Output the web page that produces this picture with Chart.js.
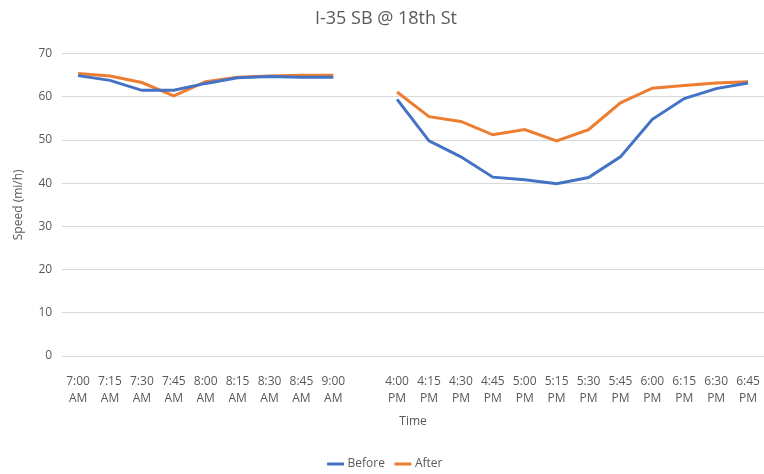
<!DOCTYPE html>
<html>
<head>
<meta charset="utf-8">
<script src="https://cdn.jsdelivr.net/npm/chart.js@4"></script>
<style>
html,body{margin:0;padding:0;background:#fff;overflow:hidden;}
#wrap{width:764px;height:474px;overflow:hidden;}
</style>
</head>
<body>
<div id="wrap"><canvas id="chart" width="764" height="480"></canvas></div>
<script>
// time of day, with one empty slot between the morning and evening peaks
const times=[['7:00','AM'],['7:15','AM'],['7:30','AM'],['7:45','AM'],['8:00','AM'],['8:15','AM'],['8:30','AM'],['8:45','AM'],['9:00','AM'],
 '',
 ['4:00','PM'],['4:15','PM'],['4:30','PM'],['4:45','PM'],['5:00','PM'],['5:15','PM'],['5:30','PM'],['5:45','PM'],['6:00','PM'],['6:15','PM'],['6:30','PM'],['6:45','PM']];
const before=[64.9,63.8,61.5,61.5,63.1,64.4,64.7,64.5,64.5,null,59.4,49.8,46.1,41.4,40.8,39.9,41.3,46.1,54.8,59.6,61.9,63.2];
const after=[65.4,64.8,63.3,60.2,63.5,64.5,64.8,65.0,65.0,null,61.1,55.4,54.3,51.2,52.4,49.8,52.4,58.6,62.0,62.6,63.2,63.5];

const grey='#595959';
const font="'Open Sans', sans-serif";
Chart.defaults.font.family=font;
Chart.defaults.color=grey;

new Chart(document.getElementById('chart'),{
 type:'line',
 data:{labels:times,datasets:[
  {label:'Before',data:before,borderColor:'#4472C4',backgroundColor:'#4472C4',borderWidth:3,pointRadius:0,tension:0,spanGaps:false},
  {label:'After',data:after,borderColor:'#ED7D31',backgroundColor:'#ED7D31',borderWidth:3,pointRadius:0,tension:0,spanGaps:false}
 ]},
 options:{
  responsive:false,animation:false,
  layout:{padding:{left:8,right:0,top:4,bottom:0}},
  plugins:{
   title:{display:true,text:'I-35 SB @ 18th St',color:grey,font:{size:18,weight:'normal'},padding:{top:4,bottom:24}},
   legend:{position:'bottom',labels:{usePointStyle:true,pointStyle:'line',boxWidth:34,color:grey,font:{size:12},padding:12}},
   tooltip:{enabled:false}
  },
  scales:{
   x:{offset:true,grid:{display:false,tickLength:14},border:{display:false},
    ticks:{color:grey,font:{size:12,lineHeight:1.4},maxRotation:0,autoSkip:false,padding:3},
    title:{display:true,text:'Time',color:grey,font:{size:12},padding:{top:5,bottom:17}}},
   y:{min:0,max:70,grid:{color:'#d9d9d9',drawTicks:false},border:{display:false},
    ticks:{stepSize:10,color:grey,font:{size:12},padding:10},
    title:{display:true,text:'Speed (mi/h)',color:grey,font:{size:12},padding:{top:3,bottom:3}}}
  }
 }
});
</script>
</body>
</html>
